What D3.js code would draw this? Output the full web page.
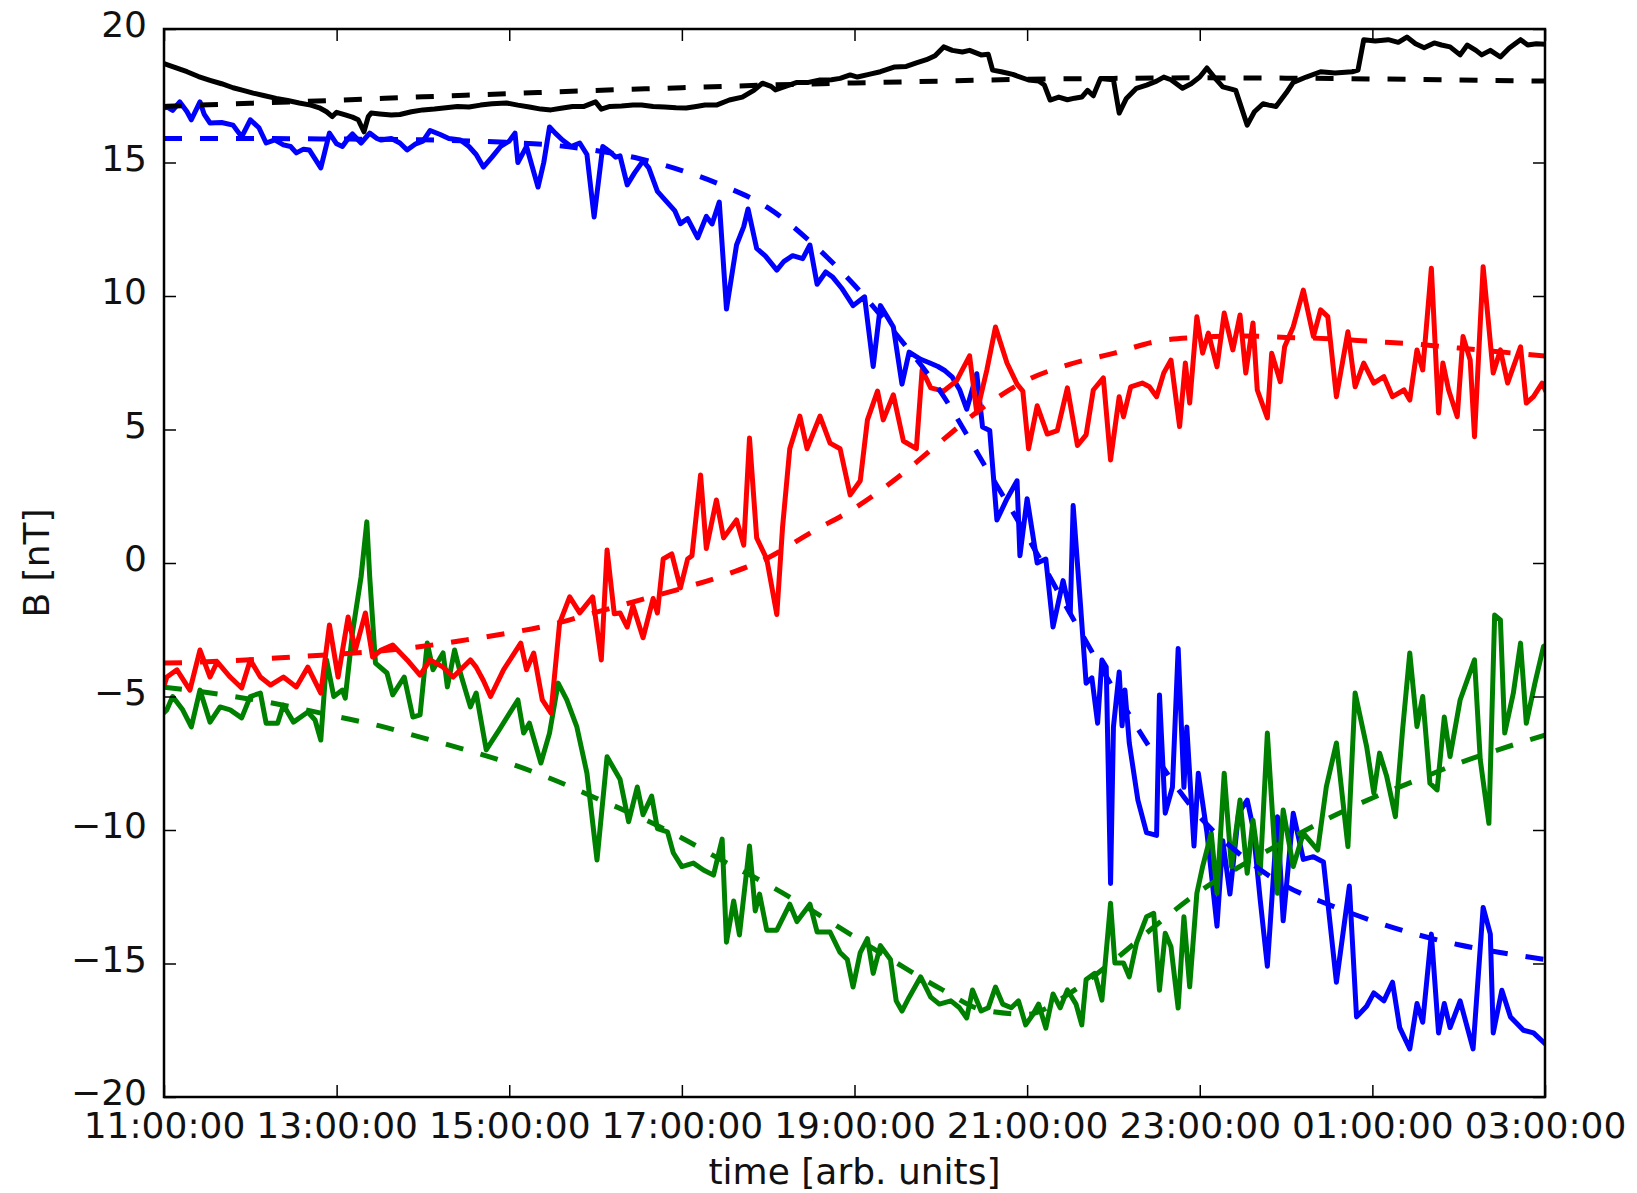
<!DOCTYPE html>
<html>
<head>
<meta charset="utf-8">
<script src="https://cdn.jsdelivr.net/npm/d3@7"></script>
<style>
  html, body { margin: 0; padding: 0; background: #fff; }
  svg { display: block; }
</style>
</head>
<body>
<svg id="chart" width="1637" height="1193"></svg>
<script>
// ---- axis definitions -------------------------------------------------
// Times are minutes after 11:00:00.
const xTickMinutes = [0, 120, 240, 360, 480, 600, 720, 840, 960];
const xTickLabels = ["11:00:00", "13:00:00", "15:00:00", "17:00:00", "19:00:00",
                     "21:00:00", "23:00:00", "01:00:00", "03:00:00"];
const yTickValues = [-20, -15, -10, -5, 0, 5, 10, 15, 20];
const yTickLabels = ["\u221220", "\u221215", "\u221210", "\u22125", "0", "5", "10", "15", "20"];

// ---- measured field, [minutes, nT] ------------------------------------
const bMag = [[0,18.7],[8,18.55],[16,18.4],[24,18.22],[32,18.08],[40,17.95],[48,17.8],[55,17.7],[62,17.6],[70,17.5],[78,17.4],[86,17.32],[94,17.23],[102,17.15],[108,17.05],[113,16.9],[117,16.72],[120,16.88],[126,16.78],[131,16.7],[135,16.6],[139,16.15],[142,16.72],[144,16.85],[150,16.82],[158,16.78],[164,16.8],[172,16.9],[180,16.97],[188,17.0],[196,17.05],[204,17.1],[212,17.08],[220,17.15],[228,17.2],[238,17.23],[246,17.15],[254,17.08],[262,17.0],[269,16.97],[276,17.03],[284,17.1],[292,17.1],[300,17.27],[304,17.0],[310,17.1],[318,17.12],[326,17.15],[332,17.15],[340,17.1],[348,17.08],[356,17.05],[363,17.04],[370,17.1],[376,17.15],[384,17.15],[393,17.34],[402,17.45],[410,17.7],[416,17.97],[422,17.85],[425,17.72],[432,17.85],[440,18.0],[448,18.0],[456,18.09],[464,18.1],[470,18.15],[477,18.28],[482,18.2],[490,18.3],[498,18.4],[508,18.58],[516,18.6],[523,18.73],[530,18.85],[536,19.0],[542,19.33],[548,19.2],[555,19.14],[560,19.2],[568,19.03],[573,19.05],[576,18.46],[582,18.4],[590,18.3],[601,18.09],[608,18.05],[612,17.9],[616,17.34],[622,17.45],[628,17.35],[633,17.41],[638,17.45],[642,17.7],[646,17.5],[651,18.15],[656,18.12],[660,18.1],[664,16.85],[669,17.4],[676,17.78],[683,17.9],[690,18.05],[695,18.2],[700,18.1],[708,17.78],[714,17.95],[720,18.2],[725,18.54],[730,18.2],[736,17.83],[742,17.75],[745,17.7],[753,16.4],[758,16.9],[764,17.2],[768,17.15],[773,17.1],[780,17.6],[785,18.0],[794,18.2],[804,18.4],[814,18.35],[826,18.4],[830,18.46],[834,19.6],[842,19.55],[851,19.6],[858,19.5],[864,19.7],[870,19.45],[876,19.3],[883,19.48],[888,19.4],[894,19.33],[901,19.03],[906,19.4],[912,19.2],[916,19.03],[922,19.2],[929,18.95],[935,19.28],[943,19.6],[948,19.4],[954,19.45],[960,19.43]];

const bx = [[0,17.04],[2,17.08],[6,16.95],[11,17.27],[16,16.9],[19,16.6],[25,17.27],[28,16.8],[32,16.48],[40,16.5],[48,16.4],[54,15.96],[60,16.6],[66,16.3],[71,15.73],[77,15.85],[83,15.66],[88,15.6],[92,15.36],[97,15.5],[101,15.47],[109,14.8],[115,16.1],[120,15.7],[124,15.6],[128,15.9],[131,16.07],[137,15.73],[143,16.1],[148,15.9],[151,15.84],[158,15.9],[164,15.73],[169,15.47],[175,15.7],[180,15.8],[185,16.2],[192,16.05],[198,15.9],[206,15.84],[212,15.6],[217,15.3],[222,14.83],[228,15.2],[234,15.6],[240,15.8],[244,16.1],[246,15.0],[250,15.4],[252,15.6],[260,14.08],[264,15.0],[268,16.33],[272,16.1],[277,15.84],[283,15.6],[289,15.73],[294,15.3],[299,12.96],[305,15.6],[310,15.4],[314,15.2],[317,15.25],[322,14.16],[327,14.6],[333,15.06],[337,14.8],[343,13.92],[350,13.5],[355,13.2],[359,12.71],[364,12.9],[371,12.18],[377,12.98],[381,12.7],[386,13.52],[391,9.51],[398,11.91],[403,12.6],[406,13.26],[412,11.78],[418,11.5],[426,10.97],[431,11.3],[437,11.51],[444,11.4],[449,11.91],[454,10.44],[460,10.9],[465,10.7],[471,10.3],[479,9.64],[487,9.97],[493,7.36],[498,9.64],[503,9.2],[507,8.84],[513,6.7],[518,7.9],[526,7.63],[532,7.5],[538,7.36],[543,7.2],[548,6.96],[553,6.5],[558,5.76],[565,7.09],[569,5.09],[574,4.96],[579,1.61],[586,2.41],[593,3.08],[595,0.27],[600,2.41],[607,0.0],[613,0.15],[618,-2.4],[625,-0.66],[630,-1.87],[632,2.15],[637,-1.5],[641,-4.5],[645,-4.3],[649,-6.0],[652,-3.63],[655,-3.9],[658,-12.0],[660,-6.14],[664,-4.08],[666,-6.1],[668,-4.76],[671,-6.74],[677,-8.88],[683,-10.1],[690,-10.2],[692,-4.94],[696,-9.37],[701,-8.4],[705,-3.2],[709,-8.4],[711,-6.14],[716,-10.6],[719,-7.87],[725,-10.1],[732,-13.6],[736,-10.4],[741,-12.4],[747,-9.37],[753,-8.88],[757,-9.9],[762,-12.6],[767,-15.1],[774,-9.5],[778,-13.4],[785,-9.37],[792,-11.1],[799,-11.0],[806,-11.2],[815,-15.7],[824,-12.1],[829,-17.0],[836,-16.6],[841,-16.1],[848,-16.4],[854,-15.7],[859,-17.4],[866,-18.2],[871,-16.5],[875,-17.2],[881,-13.9],[886,-17.6],[890,-16.5],[894,-17.4],[901,-16.4],[910,-18.2],[917,-12.9],[922,-13.9],[924,-17.6],[930,-16.0],[936,-17.0],[945,-17.5],[952,-17.6],[960,-18.0]];

const by = [[0,-5.6],[2,-5.5],[6,-5.0],[13,-5.5],[19,-6.14],[25,-4.76],[32,-5.96],[39,-5.39],[46,-5.5],[54,-5.8],[60,-5.0],[67,-4.87],[71,-6.0],[79,-6.0],[83,-5.32],[90,-5.96],[100,-5.58],[105,-5.88],[109,-6.63],[113,-3.63],[118,-5.0],[124,-4.76],[126,-5.06],[131,-2.62],[137,-0.52],[141,1.54],[143,-0.52],[147,-3.75],[155,-4.12],[159,-4.94],[167,-4.27],[173,-5.77],[178,-5.69],[183,-3.0],[187,-4.0],[194,-3.37],[197,-4.64],[202,-3.26],[206,-4.12],[213,-5.39],[217,-4.87],[224,-7.0],[233,-6.25],[246,-5.13],[250,-6.37],[254,-6.0],[262,-7.49],[268,-6.37],[274,-4.5],[280,-5.13],[287,-6.14],[294,-7.87],[301,-11.12],[308,-7.26],[317,-8.1],[323,-9.69],[329,-8.39],[333,-9.43],[339,-8.73],[343,-9.95],[350,-10.07],[354,-10.85],[360,-11.37],[368,-11.24],[375,-11.5],[382,-11.69],[388,-10.34],[391,-14.2],[396,-12.66],[400,-13.93],[407,-10.6],[411,-13.03],[414,-12.4],[419,-13.75],[426,-13.75],[435,-12.78],[440,-13.43],[449,-12.78],[454,-13.82],[463,-13.82],[470,-14.59],[475,-14.85],[479,-15.88],[484,-14.59],[489,-14.07],[493,-15.37],[498,-14.33],[505,-14.85],[509,-16.4],[513,-16.78],[518,-16.26],[526,-15.5],[533,-16.26],[539,-16.52],[547,-16.4],[553,-16.66],[558,-17.04],[562,-15.99],[568,-16.78],[573,-16.66],[578,-15.88],[583,-16.52],[589,-16.66],[594,-16.4],[599,-17.3],[604,-16.91],[608,-16.52],[613,-17.42],[618,-16.14],[623,-16.66],[628,-15.99],[634,-16.52],[638,-17.3],[641,-15.6],[647,-15.37],[652,-16.37],[658,-12.74],[661,-14.98],[667,-14.98],[671,-15.5],[676,-14.24],[683,-13.25],[688,-13.12],[692,-16.0],[696,-13.87],[700,-14.37],[705,-16.67],[709,-13.25],[713,-15.87],[718,-12.37],[722,-11.37],[728,-10.12],[732,-12.37],[737,-7.87],[742,-11.37],[748,-8.88],[753,-11.62],[757,-9.63],[762,-11.62],[767,-6.37],[774,-12.37],[778,-9.25],[785,-11.37],[792,-10.12],[802,-10.75],[808,-8.38],[815,-6.74],[823,-10.62],[828,-4.87],[836,-6.87],[841,-8.62],[845,-7.12],[850,-8.0],[856,-9.5],[861,-6.25],[866,-3.37],[871,-6.12],[875,-5.0],[880,-8.25],[885,-8.5],[890,-5.77],[894,-7.25],[901,-5.13],[906,-4.38],[911,-3.63],[915,-7.37],[921,-9.75],[925,-1.95],[929,-2.13],[932,-6.37],[938,-4.87],[943,-3.0],[947,-6.0],[953,-4.5],[959,-3.12],[960,-3.1]];

const bz = [[0,-4.6],[2,-4.27],[9,-4.0],[18,-4.76],[25,-3.26],[32,-4.27],[37,-3.7],[46,-4.27],[54,-4.68],[60,-3.63],[67,-4.27],[74,-4.57],[83,-4.27],[92,-4.64],[100,-3.9],[109,-4.87],[115,-2.32],[121,-4.27],[128,-2.02],[133,-3.26],[140,-1.87],[145,-3.52],[151,-3.26],[159,-3.07],[169,-3.63],[178,-4.2],[185,-3.63],[194,-3.9],[201,-4.27],[213,-3.63],[217,-3.9],[222,-4.4],[227,-5.0],[236,-4.0],[248,-3.0],[252,-4.0],[257,-3.37],[263,-5.13],[269,-5.62],[275,-2.25],[282,-1.27],[289,-1.87],[298,-1.27],[304,-3.63],[308,0.49],[313,-1.9],[317,-1.87],[322,-2.4],[326,-1.6],[333,-2.8],[340,-1.33],[343,-1.87],[347,0.15],[353,0.34],[359,-0.93],[364,0.15],[367,0.27],[373,3.3],[377,0.54],[384,2.36],[389,0.94],[398,1.61],[403,0.67],[407,4.68],[412,0.94],[419,0.15],[426,-1.93],[430,1.35],[435,4.28],[442,5.5],[447,4.28],[456,5.5],[463,4.49],[470,4.28],[477,2.55],[484,3.08],[489,5.36],[496,6.44],[500,5.36],[507,6.3],[514,4.57],[523,4.28],[527,7.23],[533,6.56],[542,6.44],[551,6.83],[560,7.76],[565,5.62],[572,7.23],[578,8.84],[586,7.49],[593,6.7],[597,6.44],[601,4.28],[607,5.89],[614,4.83],[621,4.96],[628,6.56],[635,4.4],[641,4.8],[646,6.48],[653,6.93],[658,3.86],[664,6.23],[667,5.48],[672,6.6],[680,6.74],[685,6.6],[690,6.23],[695,7.12],[700,7.6],[706,5.11],[710,7.49],[713,5.99],[718,9.22],[722,7.86],[726,8.61],[732,7.35],[737,9.36],[743,7.98],[748,9.29],[752,7.12],[757,8.99],[760,6.48],[767,5.43],[770,7.86],[776,6.79],[779,8.1],[785,8.85],[792,10.22],[799,8.48],[804,9.48],[809,9.23],[815,6.23],[823,8.66],[828,6.6],[834,7.49],[841,6.74],[848,6.98],[854,6.23],[862,6.48],[866,6.1],[871,7.98],[875,7.23],[881,11.04],[886,5.62],[889,7.49],[893,6.48],[899,5.48],[903,8.48],[908,7.6],[911,4.73],[917,11.1],[924,7.12],[929,7.98],[934,6.74],[943,8.1],[947,5.99],[952,6.23],[958,6.74],[960,6.5]];

// ---- model fits, [minutes, nT] ----------------------------------------
const bMagFit = [[0,17.1],[60,17.22],[120,17.33],[180,17.46],[240,17.58],[300,17.7],[360,17.8],[420,17.9],[480,17.98],[540,18.05],[600,18.12],[660,18.15],[720,18.17],[780,18.16],[840,18.13],[900,18.09],[960,18.05]];
const bxFit = [[0,15.9],[60,15.9],[120,15.88],[180,15.85],[240,15.75],[270,15.65],[300,15.45],[330,15.15],[360,14.7],[390,14.1],[420,13.3],[450,12.0],[480,10.4],[510,8.5],[540,6.4],[570,3.7],[600,1.0],[630,-1.9],[660,-4.7],[690,-7.3],[720,-9.5],[750,-11.0],[780,-12.1],[810,-12.8],[840,-13.4],[870,-13.9],[900,-14.3],[930,-14.6],[960,-14.85]];
const byFit = [[0,-4.65],[30,-4.85],[60,-5.1],[90,-5.4],[120,-5.75],[150,-6.1],[180,-6.55],[210,-7.0],[240,-7.5],[270,-8.1],[300,-8.8],[330,-9.5],[360,-10.3],[390,-11.2],[420,-12.05],[450,-13.0],[480,-14.0],[510,-15.0],[540,-15.95],[570,-16.75],[600,-16.9],[630,-16.1],[660,-14.9],[690,-13.55],[720,-12.3],[750,-11.3],[780,-10.4],[810,-9.55],[840,-8.8],[870,-8.15],[900,-7.5],[930,-6.95],[960,-6.45]];
const bzFit = [[0,-3.75],[30,-3.7],[60,-3.62],[90,-3.52],[120,-3.42],[150,-3.3],[180,-3.12],[210,-2.88],[240,-2.62],[270,-2.3],[300,-1.85],[330,-1.4],[360,-0.95],[390,-0.45],[420,0.2],[450,1.15],[480,2.05],[510,3.2],[540,4.55],[570,5.85],[600,6.85],[630,7.45],[660,7.85],[690,8.3],[720,8.45],[750,8.5],[780,8.45],[810,8.4],[840,8.3],[870,8.2],[900,8.05],[930,7.9],[960,7.75]];

// ---- drawing -----------------------------------------------------------
const plot = { left: 164, right: 1545, top: 29, bottom: 1097 };
const font = "'DejaVu Sans', 'Liberation Sans', sans-serif";
const lineWidth = 5;
const startTime = new Date(2000, 0, 1, 11, 0, 0);
const atMinute = m => new Date(startTime.getTime() + m * 60000);

const x = d3.scaleTime()
  .domain([atMinute(0), atMinute(960)])
  .range([plot.left, plot.right]);
const y = d3.scaleLinear()
  .domain([-20, 20])
  .range([plot.bottom, plot.top]);

const svg = d3.select("#chart");
svg.append("rect").attr("width", 1637).attr("height", 1193).attr("fill", "#fff");

svg.append("clipPath").attr("id", "plot-clip")
  .append("rect")
  .attr("x", plot.left).attr("y", plot.top)
  .attr("width", plot.right - plot.left).attr("height", plot.bottom - plot.top);

const lines = svg.append("g").attr("clip-path", "url(#plot-clip)");

const rawLine = d3.line()
  .x(d => x(atMinute(d[0])))
  .y(d => y(d[1]));
const fitLine = d3.line()
  .x(d => x(atMinute(d[0])))
  .y(d => y(d[1]))
  .curve(d3.curveMonotoneX);

const measured = [
  { data: bx, color: "#0000ff" },
  { data: by, color: "#008000" },
  { data: bz, color: "#ff0000" },
  { data: bMag, color: "#000000" }
];
const fits = [
  { data: bxFit, color: "#0000ff" },
  { data: byFit, color: "#008000" },
  { data: bzFit, color: "#ff0000" },
  { data: bMagFit, color: "#000000" }
];

measured.forEach(s => {
  lines.append("path")
    .attr("d", rawLine(s.data))
    .attr("fill", "none")
    .attr("stroke", s.color)
    .attr("stroke-width", lineWidth)
    .attr("stroke-linejoin", "round")
    .attr("stroke-linecap", "square");
});
fits.forEach(s => {
  lines.append("path")
    .attr("d", fitLine(s.data))
    .attr("fill", "none")
    .attr("stroke", s.color)
    .attr("stroke-width", lineWidth)
    .attr("stroke-dasharray", "18 18")
    .attr("stroke-linecap", "butt");
});

// axes with inward ticks on all four sides
function styleAxis(g, showText) {
  g.select(".domain").remove();
  g.selectAll(".tick line").attr("stroke", "#000").attr("stroke-width", 1.5);
  g.selectAll(".tick text")
    .attr("fill", "#111")
    .style("font-family", font)
    .style("font-size", "36px");
  if (!showText) g.selectAll(".tick text").remove();
}

const xTickDates = xTickMinutes.map(atMinute);

svg.append("g")
  .attr("transform", `translate(0,${plot.bottom})`)
  .call(d3.axisBottom(x).tickValues(xTickDates)
    .tickFormat((d, i) => xTickLabels[i]).tickSize(-12).tickPadding(15))
  .call(g => styleAxis(g, true));

svg.append("g")
  .attr("transform", `translate(0,${plot.top})`)
  .call(d3.axisTop(x).tickValues(xTickDates).tickSize(-12))
  .call(g => styleAxis(g, false));

svg.append("g")
  .attr("transform", `translate(${plot.left},0)`)
  .call(d3.axisLeft(y).tickValues(yTickValues)
    .tickFormat((d, i) => yTickLabels[i]).tickSize(-12).tickPadding(17))
  .call(g => styleAxis(g, true))
  .call(g => g.selectAll(".tick text").attr("dy", "0.22em"));

svg.append("g")
  .attr("transform", `translate(${plot.right},0)`)
  .call(d3.axisRight(y).tickValues(yTickValues).tickSize(-12))
  .call(g => styleAxis(g, false));

// frame
svg.append("rect")
  .attr("x", plot.left).attr("y", plot.top)
  .attr("width", plot.right - plot.left).attr("height", plot.bottom - plot.top)
  .attr("fill", "none").attr("stroke", "#000").attr("stroke-width", 2.5);

// axis titles
svg.append("text")
  .attr("x", (plot.left + plot.right) / 2)
  .attr("y", 1184)
  .attr("text-anchor", "middle")
  .attr("fill", "#111")
  .style("font-family", font).style("font-size", "36px")
  .text("time [arb. units]");

svg.append("text")
  .attr("transform", `translate(49,${(plot.top + plot.bottom) / 2}) rotate(-90)`)
  .attr("text-anchor", "middle")
  .attr("fill", "#111")
  .style("font-family", font).style("font-size", "36px")
  .text("B [nT]");
</script>
</body>
</html>
